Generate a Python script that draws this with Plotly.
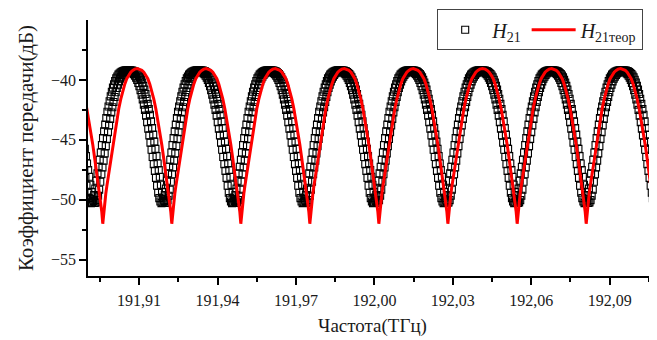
import numpy as np
import plotly.graph_objects as go

# ---- data ----
# axis extent (THz, dB)
x_range = [191.89045, 192.10809]
y_range = [-56.36, -35.0]

x_tick_vals = [191.91, 191.94, 191.97, 192.00, 192.03, 192.06, 192.09]
x_tick_text = ["191,91", "191,94", "191,97", "192,00", "192,03", "192,06", "192,09"]
x_minor_vals = [191.895, 191.925, 191.955, 191.985, 192.015, 192.045, 192.075, 192.105]
y_tick_vals = [-55, -50, -45, -40]
y_tick_text = ["\u221255", "\u221250", "\u221245", "\u221240"]
y_minor_vals = [-52.5, -47.5, -42.5, -37.5]

# theoretical curve H21teor: dip frequencies and the shape of one fringe around a dip
red_dip_freq = [191.8961, 191.9225, 191.9489, 191.9753, 192.0017,
                192.0281, 192.0546, 192.0810, 192.1074]
red_offset = [-0.01321, -0.01223, -0.01146, -0.01070, -0.00994, -0.00917, -0.00841,
              -0.00764, -0.00688, -0.00611, -0.00535, -0.00459, -0.00382, -0.00306,
              -0.00229, -0.00153, -0.00115, -0.00076, -0.00038, 0.0, 0.00038, 0.00076,
              0.00115, 0.00153, 0.00229, 0.00306, 0.00382, 0.00459, 0.00535, 0.00611,
              0.00688, 0.00764, 0.00841, 0.00917, 0.00994, 0.01070, 0.01146, 0.01223,
              0.01321]
red_db = [-39.05, -39.1, -39.2, -39.35, -39.6, -39.9, -40.35, -40.9, -41.6, -42.4,
          -43.3, -44.3, -45.4, -46.6, -47.8, -48.9, -49.5, -50.2, -51.0, -52.0,
          -51.0, -50.2, -49.5, -48.9, -47.8, -46.6, -45.4, -44.3, -43.3, -42.4,
          -41.6, -40.9, -40.35, -39.9, -39.6, -39.35, -39.2, -39.1, -39.05]

# measured H21: dip frequencies, sample step and the measured samples of one fringe
black_dip_freq = [191.8924, 191.9194, 191.9464, 191.9734, 192.0003,
                  192.0273, 192.0543, 192.0812, 192.1082]
black_step = 0.0002108
black_db = [
    -39.22, -39.21, -39.25, -39.2, -39.3, -39.21, -39.35, -39.22, -39.43, -39.25,
    -39.52, -39.29, -39.65, -39.34, -39.81, -39.42, -40.0, -39.51, -40.26, -39.63,
    -40.53, -39.79, -40.85, -39.98, -41.23, -40.22, -41.62, -40.5, -42.06, -40.81,
    -42.5, -41.18, -42.98, -41.57, -43.53, -42.0, -44.08, -42.44, -44.63, -42.9,
    -45.23, -43.46, -45.83, -44.01, -46.43, -44.56, -47.04, -45.15, -47.59, -45.75,
    -48.17, -46.36, -48.83, -46.97, -49.42, -47.52, -49.86, -48.08, -50.14, -48.75,
    -50.28, -49.36, -50.21, -49.81,
    -50.0, -50.11, -49.6, -50.27, -49.07, -50.22, -48.41, -50.03, -47.8, -49.67,
    -47.24, -49.16, -46.66, -48.5, -46.05, -47.87, -45.44, -47.31, -44.84, -46.74,
    -44.29, -46.13, -43.73, -45.52, -43.18, -44.92, -42.66, -44.36, -42.22, -43.8,
    -41.78, -43.25, -41.37, -42.72, -40.99, -42.28, -40.64, -41.84, -40.36, -41.43,
    -40.09, -41.03, -39.87, -40.68, -39.71, -40.39, -39.56, -40.12, -39.46, -39.9,
    -39.38, -39.73, -39.32, -39.58, -39.27, -39.47, -39.23, -39.39, -39.21, -39.33,
    -39.2, -39.27, -39.21, -39.24,
]

# ---- assemble series ----
n_b = len(black_db)
b_off = (np.arange(n_b) - n_b // 2) * black_step
bx, by = [], []
for d in black_dip_freq:
    bx.extend(d + b_off)
    by.extend(black_db)

rx, ry = [], []
for d in red_dip_freq:
    rx.extend(d + np.array(red_offset))
    ry.extend(red_db)

serif = "Liberation Serif, Times New Roman, serif"

fig = go.Figure()
fig.add_trace(go.Scatter(
    x=bx, y=by, mode="markers", name="<i>H</i><sub>21</sub>",
    marker=dict(symbol="square-open", size=7, color="black",
                line=dict(width=1.1, color="black")),
))
fig.add_trace(go.Scatter(
    x=rx, y=ry, mode="lines", name="<i>H</i><sub>21теор</sub>",
    line=dict(color="#ff0000", width=3),
))

axis_common = dict(
    showline=True, linecolor="black", linewidth=1.5, mirror=False,
    showgrid=False, zeroline=False, ticks="outside", ticklen=7, tickwidth=1.5,
    tickcolor="black", tickfont=dict(family=serif, size=16, color="#1a1a1a"),
)

fig.update_xaxes(
    range=x_range, tickmode="array", tickvals=x_tick_vals, ticktext=x_tick_text,
    ticklabelstandoff=2,
    minor=dict(tickmode="array", tickvals=x_minor_vals, ticks="outside", ticklen=4,
               tickwidth=1.5, tickcolor="black"),
    title=dict(text="Частота(ТГц)", font=dict(family=serif, size=19, color="#1a1a1a"),
               standoff=11),
    **axis_common,
)
fig.update_yaxes(
    range=y_range, tickmode="array", tickvals=y_tick_vals, ticktext=y_tick_text,
    minor=dict(tickmode="array", tickvals=y_minor_vals, ticks="outside", ticklen=4,
               tickwidth=1.5, tickcolor="black"),
    title=dict(text="Коэффициент передачи(дБ)",
               font=dict(family=serif, size=21, color="#1a1a1a"), standoff=12),
    **axis_common,
)

fig.update_layout(
    width=649, height=332, autosize=False,
    margin=dict(l=79.5, r=0, t=12, b=64),
    paper_bgcolor="white", plot_bgcolor="white",
    showlegend=True,
    legend=dict(orientation="h", x=0.6137, y=1.042, xanchor="left", yanchor="top",
                bordercolor="#444", borderwidth=1, bgcolor="white",
                itemwidth=44,
                font=dict(family=serif, size=20, color="#1a1a1a")),
)

fig.write_html("out.html")
